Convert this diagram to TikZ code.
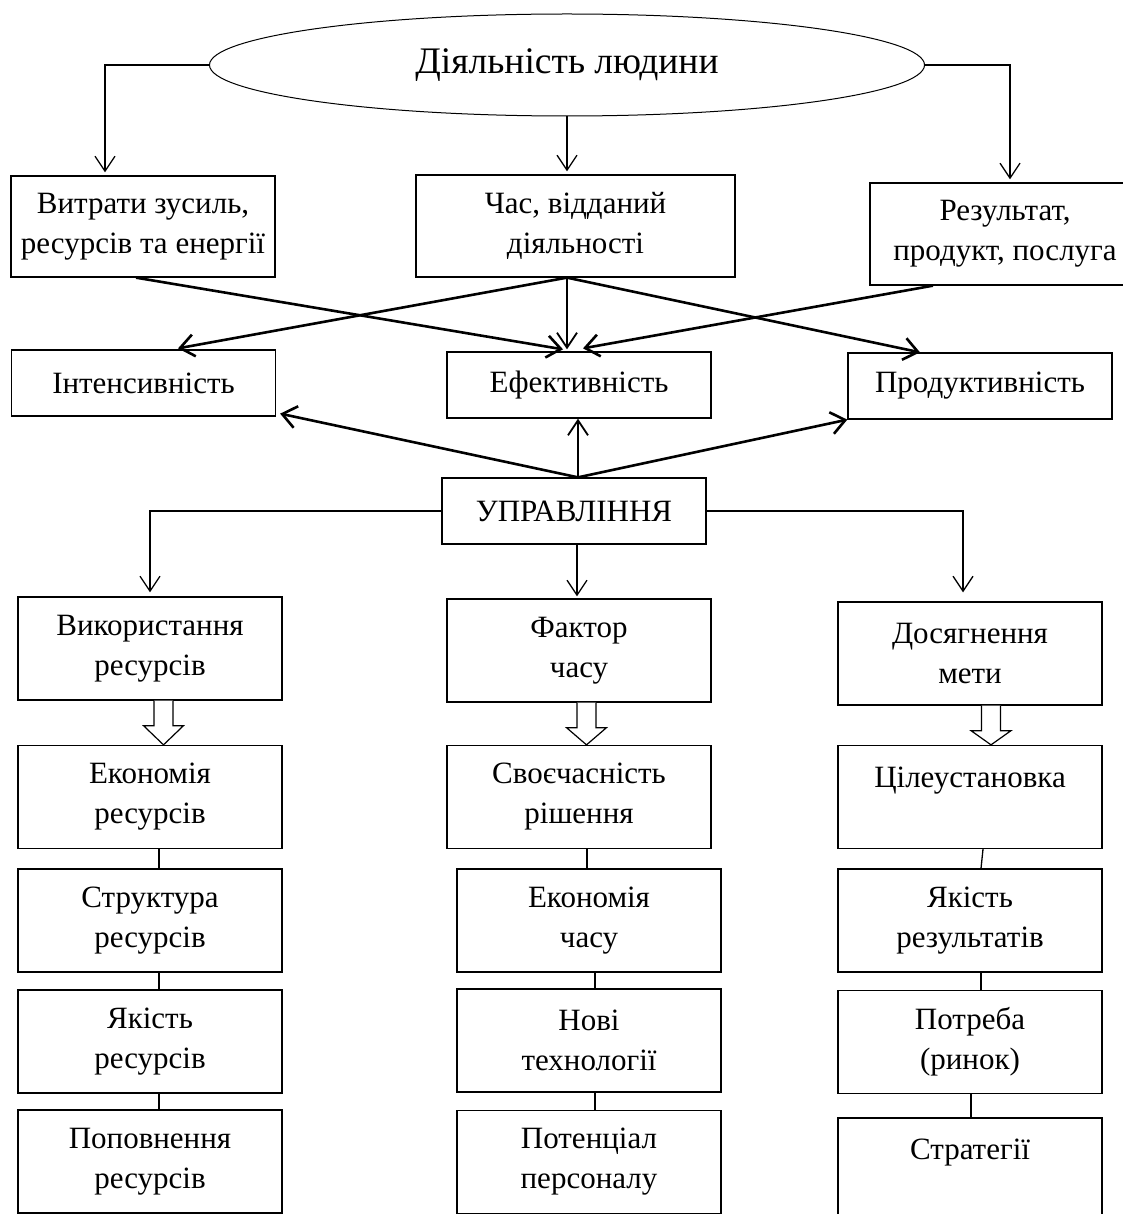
\documentclass[tikz,border=0pt]{standalone}
\usepackage{fontspec}
\setmainfont{Liberation Serif}
\usetikzlibrary{shapes.geometric, arrows.meta, calc}
\tikzset{
    box/.style={rectangle, draw=black, line width=1.3pt, align=center, font=\fontsize{31}{40}\selectfont, inner sep=0pt, minimum width=264pt},
    tallbox/.style={box, minimum height=103pt},
    flatbox/.style={box, minimum height=66pt},
    oval/.style={ellipse, draw=black, line width=1pt, font=\fontsize{37.5}{44}\selectfont, inner sep=0pt},
    arr/.style={-{Straight Barb[length=15pt,width=20pt]}, line width=1.3pt},
    midarr/.style={arr, line width=1.8pt},
    boldarr/.style={-{Straight Barb[length=14pt,width=22pt]}, line width=2.6pt},
    link/.style={line width=1.3pt},
    hollow/.style={draw=black, line width=1.2pt, fill=white, line join=miter}
}
\begin{document}
\begin{tikzpicture}[x=1pt, y=-1pt]
    \useasboundingbox (0,0) rectangle (1123,1214);
    % top level
    \node[oval, minimum width=715pt, minimum height=102pt] (act) at (567,65) {Діяльність людини};
    \node[box, minimum height=101pt] (costs) at (143,226.5) {Витрати зусиль,\\ресурсів та енергії};
    \node[box, minimum width=319pt, minimum height=102pt] (time) at (575.5,226) {Час, відданий\\діяльності};
    \node[box, minimum width=270pt, minimum height=102pt] (result) at (1005,234) {Результат,\\продукт, послуга};
    \draw[arr] (act.west) -| ([xshift=-38pt,yshift=3pt]costs.north);
    \draw[arr] (act.south) -- ([xshift=-8.5pt,yshift=3pt]time.north);
    \draw[arr] (act.east) -| ([xshift=5pt,yshift=3pt]result.north);
    % indicators
    \node[flatbox] (intens) at (143.5,383) {Інтенсивність};
    \node[flatbox] (effect) at (579,385) {Ефективність};
    \node[flatbox] (product) at (980,386) {Продуктивність};
    \draw[boldarr] ([xshift=-7pt]costs.south) -- ([xshift=-16pt,yshift=2pt]effect.north);
    \draw[boldarr] ([xshift=-8.5pt]time.south) -- ([xshift=34.5pt,yshift=1pt]intens.north);
    \draw[midarr] ([xshift=-8.5pt]time.south) -- ([xshift=-12pt,yshift=2pt]effect.north);
    \draw[boldarr] ([xshift=-8.5pt]time.south) -- ([xshift=-60pt]product.north);
    \draw[boldarr] ([xshift=-72pt]result.south) -- ([xshift=4pt,yshift=3pt]effect.north);
    % management
    \node[flatbox] (manage) at (574,511) {УПРАВЛІННЯ};
    \draw[boldarr] ([xshift=4pt]manage.north) -- ([xshift=4pt,yshift=3pt]intens.south east);
    \draw[midarr] ([xshift=4pt]manage.north) -- ([xshift=-1pt]effect.south);
    \draw[boldarr] ([xshift=4pt]manage.north) -- (product.south west);
    % three columns
    \node[tallbox] (use) at (150,648.5) {Використання\\ресурсів};
    \node[tallbox] (factor) at (579,650.5) {Фактор\\часу};
    \node[tallbox] (goal) at (970,653.5) {Досягнення\\мети};
    \draw[arr] (manage.west) -| ([yshift=4pt]use.north);
    \draw[arr] ([xshift=3pt]manage.south) -- ([xshift=-2pt,yshift=2pt]factor.north);
    \draw[arr] (manage.east) -| ([xshift=-7pt,yshift=9pt]goal.north);
    \node[tallbox] (saveres) at (150,797) {Економія\\ресурсів};
    \node[tallbox] (timely) at (579,797) {Своєчасність\\рішення};
    \node[tallbox] (target) at (970,797) {Цілеустановка\\~};
    \node[tallbox] (struct) at (150,920.5) {Структура\\ресурсів};
    \node[tallbox] (savetime) at (589,920.5) {Економія\\часу};
    \node[tallbox] (quality) at (970,920.5) {Якість\\результатів};
    \node[tallbox] (resqual) at (150,1041.5) {Якість\\ресурсів};
    \node[tallbox] (tech) at (589,1040.5) {Нові\\технології};
    \node[tallbox] (need) at (970,1042) {Потреба\\(ринок)};
    \node[tallbox] (refill) at (150,1161.5) {Поповнення\\ресурсів};
    \node[tallbox] (staff) at (589,1162) {Потенціал\\персоналу};
    \node[tallbox] (strat) at (970,1169.5) {Стратегії\\~};
    % hollow arrows
    \foreach \up/\down/\dx in {use/saveres/13.5, factor/timely/7.5, goal/target/21}{
        \coordinate (a) at ([xshift=\dx pt]\up.south);
        \coordinate (b) at ([xshift=\dx pt]\down.north);
        \draw[hollow] ($(a)+(-9.5,0)$) -- ++(0,25) -- ++(-10.5,0) -- (b) -- ($(a)+(20,25)$) -- ++(-10.5,0) -- ++(0,-25);
    }
    % chains
    \foreach \up/\down/\da/\db in {saveres/struct/9/9, struct/resqual/9/9, resqual/refill/9/9,
        timely/savetime/8/-2, savetime/tech/6/6, tech/staff/6/6,
        target/quality/13/11, quality/need/11/11, need/strat/1/1}
        \draw[link] ([xshift=\da pt]\up.south) -- ([xshift=\db pt]\down.north);
\end{tikzpicture}
\end{document}
